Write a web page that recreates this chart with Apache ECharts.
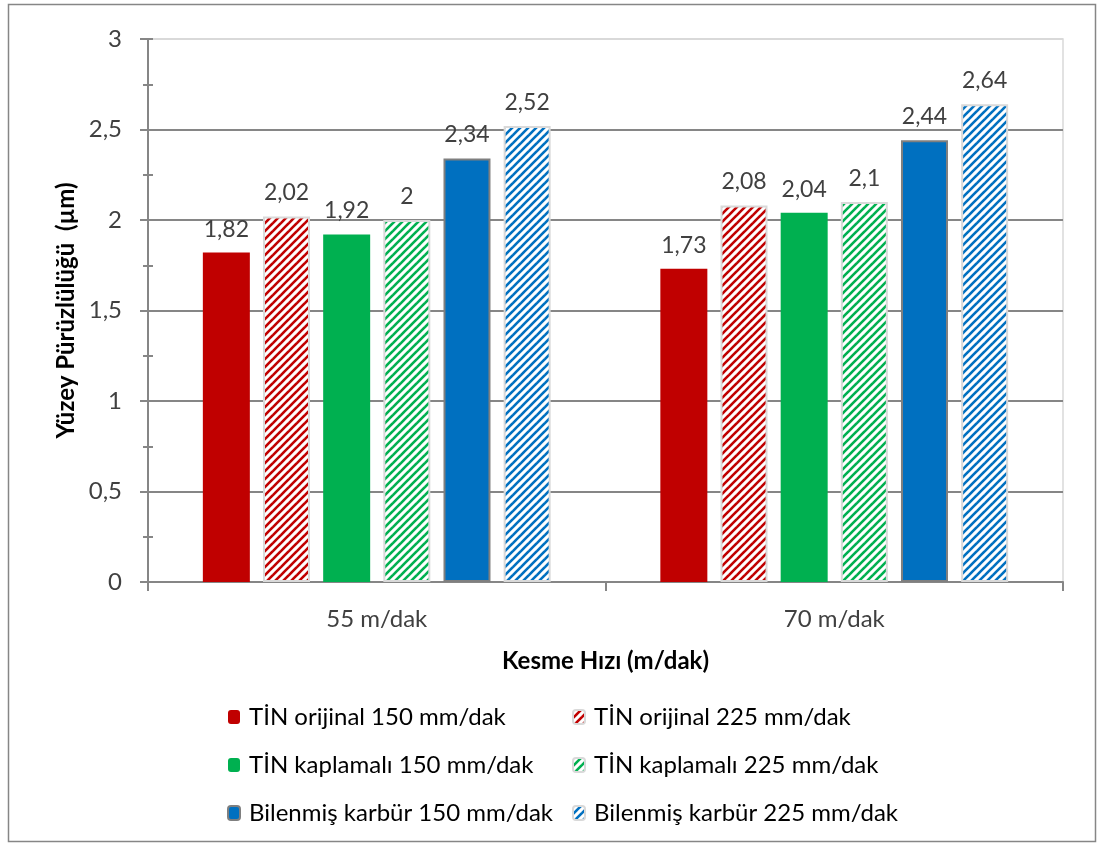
<!DOCTYPE html>
<html>
<head>
<meta charset="utf-8">
<script src="https://cdn.jsdelivr.net/npm/echarts@6/dist/echarts.min.js"></script>
<style>
  html, body { margin: 0; padding: 0; background: #fff; }
  #chart { width: 1105px; height: 846px; }
</style>
</head>
<body>
<div id="chart"></div>
<script>
// Surface roughness by cutting speed, tool type and feed rate
const categories = ['55 m/dak', '70 m/dak'];
const seriesNames = [
  'TİN orijinal 150 mm/dak',
  'TİN orijinal 225 mm/dak',
  'TİN kaplamalı 150 mm/dak',
  'TİN kaplamalı 225 mm/dak',
  'Bilenmiş karbür 150 mm/dak',
  'Bilenmiş karbür 225 mm/dak'
];
const tinOrijinal150 = [1.82, 1.73];
const tinOrijinal225 = [2.02, 2.08];
const tinKaplamali150 = [1.92, 2.04];
const tinKaplamali225 = [2, 2.1];
const karbur150 = [2.34, 2.44];
const karbur225 = [2.52, 2.64];
const yTicks = [0, 0.5, 1, 1.5, 2, 2.5, 3];

const FONT = 'Lato';
const comma = v => String(v).replace('.', ',');

// Diagonal stripe fill on white for the 225 mm/dak bars
function stripes(color) {
  const s = 8;
  const c = document.createElement('canvas');
  c.width = s; c.height = s;
  const g = c.getContext('2d');
  g.fillStyle = '#fff';
  g.fillRect(0, 0, s, s);
  g.strokeStyle = color;
  g.lineWidth = 2.6;
  for (let k = -1; k <= 1; k++) {
    g.beginPath();
    g.moveTo(k * s - 1, s + 1);
    g.lineTo(k * s + s + 1, -1);
    g.stroke();
  }
  return { image: c, repeat: 'repeat' };
}

const red = '#C00000', green = '#00B050', blue = '#0070C0';
const values = [tinOrijinal150, tinOrijinal225, tinKaplamali150, tinKaplamali225, karbur150, karbur225];
const styles = [
  { color: red },
  { color: stripes(red), borderColor: '#d9d9d9', borderWidth: 2 },
  { color: green },
  { color: stripes(green), borderColor: '#d9d9d9', borderWidth: 2 },
  { color: blue, borderColor: '#7f7f7f', borderWidth: 2 },
  { color: stripes(blue), borderColor: '#d9d9d9', borderWidth: 2 }
];

const series = seriesNames.map((name, i) => ({
  name,
  type: 'bar',
  data: values[i],
  barWidth: 47,
  barGap: '28%',
  itemStyle: styles[i],
  label: {
    show: true,
    position: 'top',
    distance: 12,
    fontFamily: FONT,
    fontSize: 23,
    color: '#404040',
    formatter: p => comma(p.value)
  }
}));

const legendText = {
  fontFamily: FONT, fontSize: 24, color: '#000', lineHeight: 24,
  padding: [0, 0, 0, 4]
};
const legendBase = {
  orient: 'vertical',
  top: 700,
  itemWidth: 12, itemHeight: 14,
  itemGap: 24,
  textStyle: legendText
};

const chart = echarts.init(document.getElementById('chart'), null, { renderer: 'canvas' });
chart.setOption({
  animation: false,
  backgroundColor: '#fff',
  graphic: [{
    type: 'rect',
    shape: { x: 8.5, y: 4.5, width: 1087, height: 837 },
    style: { fill: 'none', stroke: '#868686', lineWidth: 1.5 },
    silent: true
  }],
  grid: {
    left: 148, right: 42, top: 39, bottom: 264,
    show: true, borderColor: '#d9d9d9', borderWidth: 1.5,
    containLabel: false
  },
  xAxis: {
    type: 'category',
    data: categories,
    name: 'Kesme Hızı (m/dak)',
    nameLocation: 'middle',
    nameGap: 67,
    nameTextStyle: { fontFamily: FONT, fontSize: 24, fontWeight: 'bold', color: '#000' },
    axisLine: { lineStyle: { color: '#868686', width: 2 } },
    axisTick: { show: true, length: 9, lineStyle: { color: '#868686', width: 2 } },
    axisLabel: { fontFamily: FONT, fontSize: 24, color: '#404040', margin: 25 },
    splitLine: { show: false }
  },
  yAxis: [{
    type: 'value',
    min: yTicks[0],
    max: yTicks[yTicks.length - 1],
    interval: 0.5,
    name: 'Yüzey Pürüzlülüğü  (µm)',
    nameLocation: 'middle',
    nameGap: 70,
    nameTextStyle: { fontFamily: FONT, fontSize: 24, fontWeight: 'bold', color: '#000' },
    axisLine: { show: true, lineStyle: { color: '#868686', width: 2 } },
    axisTick: { show: true, length: 8, lineStyle: { color: '#868686', width: 2 } },
    minorTick: { show: true, splitNumber: 2, length: 5, lineStyle: { color: '#868686', width: 2 } },
    axisLabel: { fontFamily: FONT, fontSize: 24, color: '#404040', margin: 26, formatter: v => comma(v) },
    splitLine: {
      show: true,
      lineStyle: { color: ['#868686', '#868686', '#868686', '#868686', '#868686', '#868686', '#d9d9d9'], width: 2 }
    }
  }, {
    // inner half of the crossing ticks on the value axis
    type: 'value',
    position: 'left',
    min: yTicks[0],
    max: yTicks[yTicks.length - 1],
    interval: 0.5,
    axisLine: { show: false },
    axisTick: { show: true, inside: true, length: 5, lineStyle: { color: '#868686', width: 2 } },
    minorTick: { show: true, splitNumber: 2, length: 5, lineStyle: { color: '#868686', width: 2 } },
    axisLabel: { show: false },
    splitLine: { show: false }
  }],
  legend: [
    Object.assign({ left: 222, data: [seriesNames[0], seriesNames[2], seriesNames[4]] }, legendBase),
    Object.assign({ left: 567, data: [seriesNames[1], seriesNames[3], seriesNames[5]] }, legendBase)
  ],
  series
});
</script>
</body>
</html>
